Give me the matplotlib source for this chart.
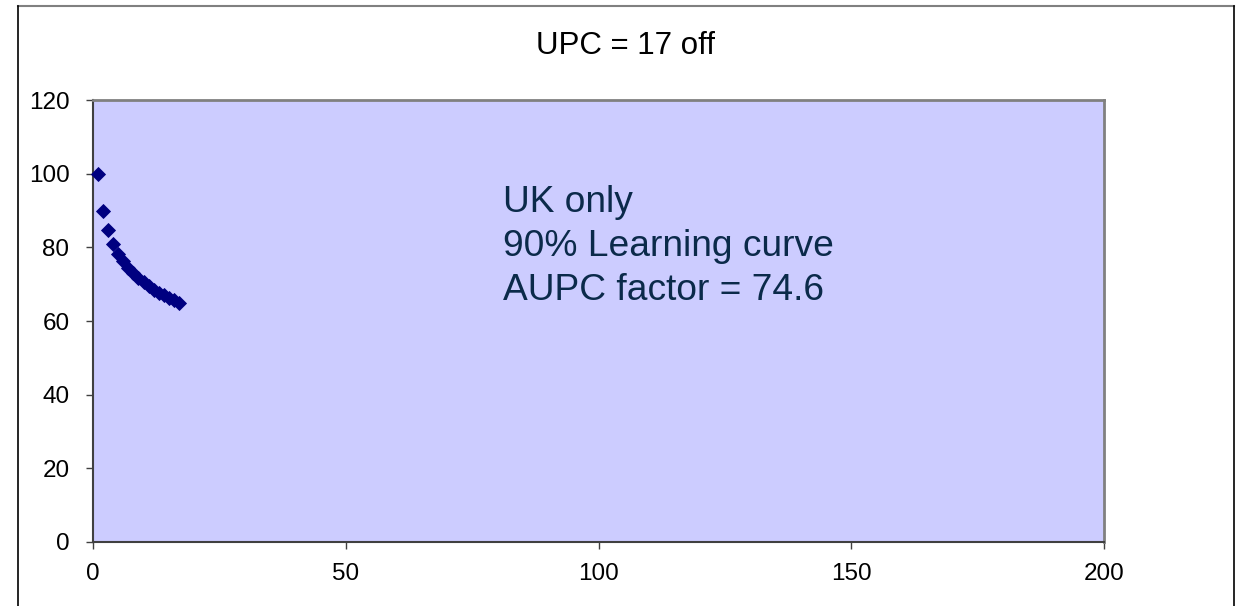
import matplotlib.pyplot as plt
from matplotlib.lines import Line2D

plt.rcParams['font.family'] = ['Liberation Sans', 'DejaVu Sans']

# units produced vs. cost per unit (90% learning curve, 17 off)
units = [1, 2, 3, 4, 5, 6, 7, 8, 9, 10, 11, 12, 13, 14, 15, 16, 17]
unit_cost = [100, 90, 84.6, 81, 78.3, 76.2, 74.4, 72.9, 71.6, 70.5,
             69.5, 68.5, 67.7, 67.0, 66.3, 65.6, 65.0]

x_ticks = [0, 50, 100, 150, 200]
y_ticks = [0, 20, 40, 60, 80, 100, 120]

title = 'UPC = 17 off'
note_lines = ['UK only', '90% Learning curve', 'AUPC factor = 74.6']

W, H = 1238, 606
fig = plt.figure(figsize=(W / 100, H / 100), dpi=100)
fig.patch.set_facecolor('white')

ax = fig.add_axes([93 / W, 1 - 542 / H, (1104 - 93) / W, (542 - 100) / H])
ax.set_facecolor('#ccccff')

ax.plot(units, unit_cost, linestyle='none', marker='D', markersize=7,
        markeredgewidth=0.6, color='#000080', clip_on=False, zorder=3)

ax.set_xlim(0, 200)
ax.set_ylim(0, 120)
ax.set_xticks(x_ticks)
ax.set_yticks(y_ticks)
ax.tick_params(direction='out', length=5, width=1, color='#404040',
               labelsize=17.5)
ax.tick_params(axis='x', pad=10)
ax.tick_params(axis='y', pad=12)

for side in ('left', 'bottom'):
    ax.spines[side].set_color('#404040')
    ax.spines[side].set_linewidth(1.5)
for side in ('top', 'right'):
    ax.spines[side].set_color('#808080')
    ax.spines[side].set_linewidth(2)

# baseline of the last line of the note
ax.text(81.1, 65.7, '\n'.join(note_lines), fontsize=26.7, color='#0b2a4a',
        ha='left', va='baseline', linespacing=1.33)

fig.text(626 / W, 1 - 54 / H, title, fontsize=22.5, ha='center',
         va='baseline')

# chart frame
x0, x1, yt = 18 / W, 1234 / W, 1 - 6 / H
fig.add_artist(Line2D([x0, x1], [yt, yt], color='#808080', lw=1.5))
fig.add_artist(Line2D([x0, x0], [0, yt], color='black', lw=1.2))
fig.add_artist(Line2D([x1, x1], [0, yt], color='black', lw=1.2))

fig.savefig('out.png', dpi=100)
